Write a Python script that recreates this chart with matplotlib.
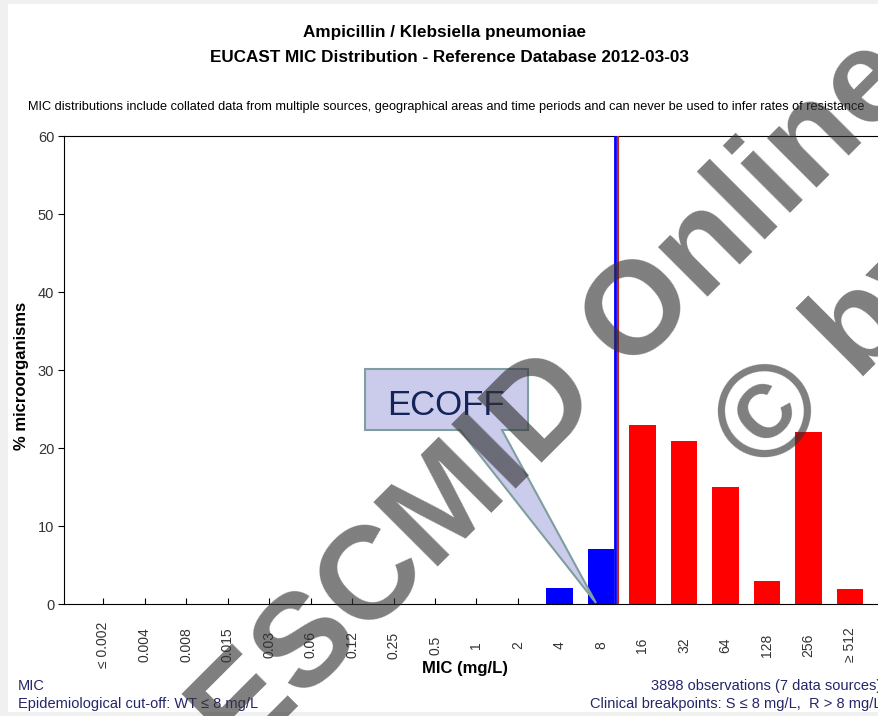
import matplotlib
matplotlib.use("Agg")
import matplotlib.pyplot as plt
import matplotlib.transforms as mtransforms
from matplotlib.patches import Polygon

plt.rcParams['font.family'] = ['Liberation Sans', 'DejaVu Sans']

mic_labels = ["≤ 0.002", "0.004", "0.008", "0.015", "0.03", "0.06", "0.12", "0.25",
              "0.5", "1", "2", "4", "8", "16", "32", "64", "128", "256", "≥ 512"]
percent = [0, 0, 0, 0, 0, 0, 0, 0, 0, 0, 0, 2.0, 7.0, 22.9, 20.9, 15.0, 2.95, 22.0, 1.9]
ecoff_pos = 12.34   # WT <= 8 mg/L
breakpoint_pos = 12.41

W, H = 879, 716


def fx(px):
    return px / W


def fy(py):
    return 1 - py / H


fig = plt.figure(figsize=(W / 100, H / 100), dpi=100, facecolor="#f0f0f0")

# white page inside a thin grey border
fig.patches.append(plt.Rectangle((fx(8), fy(712)), 1, 708 / H, transform=fig.transFigure,
                                 facecolor="white", edgecolor="none", zorder=-10))

ax = fig.add_axes([fx(64), fy(604), (889 - 64) / W, 468 / H])
ax.set_facecolor("white")

x = list(range(len(mic_labels)))
colors = ["blue" if i <= 12 else "red" for i in x]
ax.bar(x, percent, width=0.63, color=colors, zorder=2)
ax.axvline(ecoff_pos, color="blue", lw=2, zorder=3)
ax.axvline(breakpoint_pos, color="#c0281a", lw=1.5, zorder=3)

ax.set_xlim(-0.94, 18.94)
ax.set_ylim(0, 60)
ax.set_yticks(range(0, 61, 10))
ax.set_xticks(x)
ax.set_xticklabels([])
ax.tick_params(axis="x", direction="in", length=4)
ax.tick_params(axis="y", direction="out", length=4, labelsize=10.5, labelcolor="#333333", pad=3)

# MIC labels, rotated and centred under each tick
trans = mtransforms.blended_transform_factory(ax.transData, ax.transAxes)
for i, lab in enumerate(mic_labels):
    ax.text(i, -41 / 468, lab, rotation=90, ha="center", va="center", fontsize=10,
            color="#333333", transform=trans)

fig.text(fx(22), fy(376), "% microorganisms", rotation=90, ha="center", va="center",
         fontsize=12, fontweight="bold")
fig.text(fx(465), fy(668), "MIC (mg/L)", ha="center", va="center", fontsize=12,
         fontweight="bold")

fig.text(fx(445), fy(33), "Ampicillin / Klebsiella pneumoniae", ha="center", va="center",
         fontsize=12.3, fontweight="bold")
fig.text(fx(450), fy(57), "EUCAST MIC Distribution - Reference Database 2012-03-03",
         ha="center", va="center", fontsize=12.3, fontweight="bold")
fig.text(fx(28), fy(107),
         "MIC distributions include collated data from multiple sources, geographical areas "
         "and time periods and can never be used to infer rates of resistance",
         ha="left", va="center", fontsize=9.2)

navy = "#25256a"
fig.text(fx(18), fy(686), "MIC", ha="left", va="center", fontsize=10.5, color=navy)
fig.text(fx(18), fy(704), "Epidemiological cut-off: WT ≤ 8 mg/L", ha="left", va="center",
         fontsize=10.5, color=navy)
fig.text(fx(881), fy(686), "3898 observations (7 data sources)", ha="right", va="center",
         fontsize=10.5, color=navy)
fig.text(fx(882), fy(704), "Clinical breakpoints: S ≤ 8 mg/L,  R > 8 mg/L", ha="right",
         va="center", fontsize=10.5, color=navy)

# ECOFF callout box with a pointer down to the 8 mg/L bar
px = [365, 528, 528, 502, 596, 460, 365]
py = [369, 369, 430, 430, 603, 430, 430]
fig.patches.append(Polygon([(fx(a), fy(b)) for a, b in zip(px, py)], closed=True,
                           transform=fig.transFigure, facecolor="#cbcbec",
                           edgecolor="#7f9e9e", lw=1.5, zorder=5))
fig.text(fx(446), fy(415), "ECOFF", ha="center", va="baseline", fontsize=25,
         color="#14245a", zorder=6)

# watermark, two lines at 45 degrees
wm = dict(rotation=45, rotation_mode="anchor", va="baseline", fontsize=95,
          fontweight="bold", color="#333333", alpha=0.63, zorder=10)
fig.text(fx(580), fy(425), "ESCMID Online", ha="center", **wm)
fig.text(fx(763), fy(477), "© by ESCMID", ha="left", **wm)

fig.savefig("out.png", dpi=100, facecolor=fig.get_facecolor())
